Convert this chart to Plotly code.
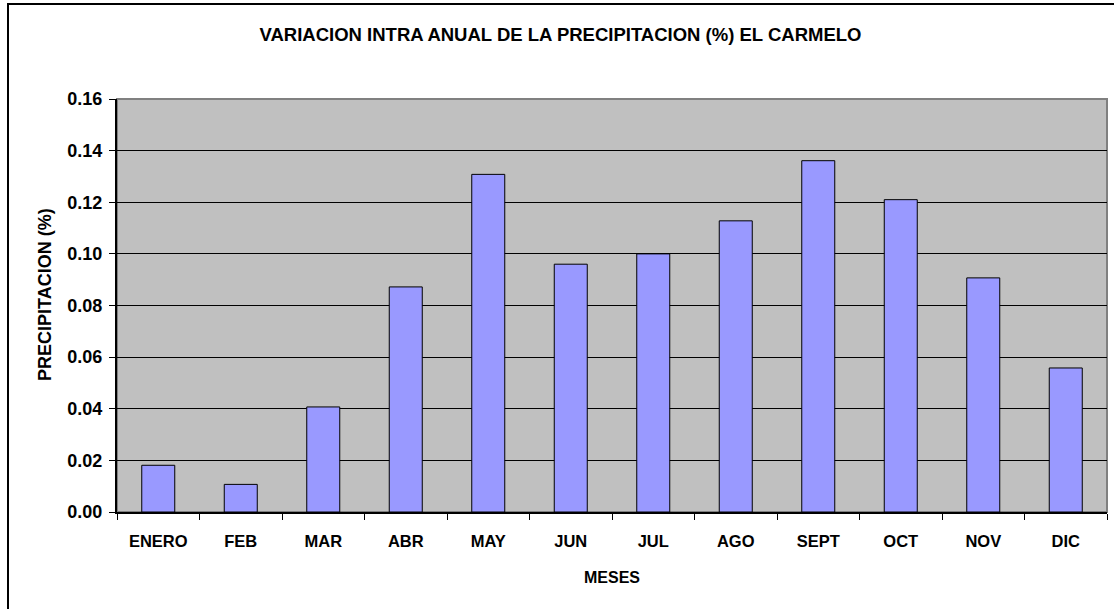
import plotly.graph_objects as go

meses = ["ENERO", "FEB", "MAR", "ABR", "MAY", "JUN", "JUL", "AGO", "SEPT", "OCT", "NOV", "DIC"]
precip = [0.0181, 0.0107, 0.0407, 0.0872, 0.1308, 0.0960, 0.1000, 0.1128, 0.1361, 0.1210, 0.0907, 0.0558]
y_ticks = [0.00, 0.02, 0.04, 0.06, 0.08, 0.10, 0.12, 0.14, 0.16]
y_labels = ["0.00", "0.02", "0.04", "0.06", "0.08", "0.10", "0.12", "0.14", "0.16"]

FONT = "Liberation Sans, Arial, sans-serif"
W, H = 1114, 609
L, R, T, B = 117, 7, 99, 97
PW, PH = W - L - R, H - T - B

fig = go.Figure()
fig.add_trace(go.Bar(
    x=meses, y=precip,
    marker=dict(color="#9999FF", line=dict(color="black", width=1)),
    width=0.4,
))

fig.update_layout(
    width=W, height=H,
    margin=dict(l=L, r=R, t=T, b=B),
    paper_bgcolor="white",
    plot_bgcolor="#C0C0C0",
    showlegend=False,
    font=dict(family=FONT, color="black"),
    title=dict(
        text="<b>VARIACION INTRA ANUAL DE LA PRECIPITACION (%) EL CARMELO</b>",
        x=560.5 / W, xref="container", xanchor="center",
        y=1 - 35 / H, yanchor="middle",
        font=dict(family=FONT, size=18.5, color="black"),
    ),
    xaxis=dict(
        showgrid=False, showline=True, linecolor="black", linewidth=2,
        ticks="outside", ticklen=6, tickcolor="black", tickson="boundaries",
        tickfont=dict(family=FONT, size=16.5, color="black"),
        tickprefix="<b>", ticksuffix="</b>",
        ticklabelstandoff=13,
    ),
    yaxis=dict(
        range=[0, 0.16], tickvals=y_ticks, ticktext=["<b>" + t + "</b>" for t in y_labels],
        showgrid=True, gridcolor="black", gridwidth=1,
        showline=True, linecolor="black", linewidth=2,
        ticks="outside", ticklen=6, tickcolor="black",
        tickfont=dict(family=FONT, size=18, color="black"),
        ticklabelstandoff=3,
        zeroline=False,
    ),
    annotations=[
        dict(text="<b>MESES</b>", xref="paper", yref="paper",
             x=(612 - L) / PW, y=-(577 - (T + PH)) / PH,
             xanchor="center", yanchor="middle", showarrow=False,
             font=dict(family=FONT, size=16, color="black")),
        dict(text="<b>PRECIPITACION (%)</b>", xref="paper", yref="paper",
             x=(45 - L) / PW, y=((T + PH) - 295) / PH, textangle=-90,
             xanchor="center", yanchor="middle", showarrow=False,
             font=dict(family=FONT, size=18, color="black")),
    ],
    shapes=[
        dict(type="rect", xref="paper", yref="paper", x0=0, x1=1, y0=0, y1=1,
             line=dict(color="#808080", width=2), layer="below"),
        dict(type="rect", xref="paper", yref="paper",
             x0=(8 - L) / PW, x1=1.05, y0=-0.4, y1=((T + PH) - 4) / PH,
             line=dict(color="black", width=2)),
    ],
)

fig.write_html(
    "out.html",
    config={"displayModeBar": False},
    post_script="document.body.style.margin='0';document.body.style.overflow='hidden';",
)
